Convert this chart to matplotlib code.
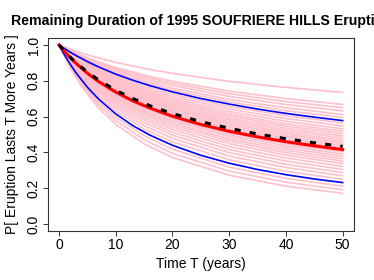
import matplotlib
matplotlib.use('Agg')
import matplotlib.pyplot as plt
import numpy as np

# time grid (years) for the main curves
t_main = [0, 1, 2, 3, 5, 7, 10, 13, 16, 20, 25, 30, 35, 40, 45, 50]

# central estimate (red) and the other estimate (black dashed)
p_red = [1.0, 0.962, 0.928, 0.897, 0.842, 0.795, 0.737, 0.688, 0.648,
         0.602, 0.556, 0.518, 0.487, 0.460, 0.437, 0.416]
p_dash = [1.0, 0.964, 0.931, 0.901, 0.849, 0.804, 0.747, 0.701, 0.661,
          0.617, 0.572, 0.535, 0.503, 0.477, 0.454, 0.434]

# upper and lower bounds (blue)
p_upper = [1.0, 0.979, 0.959, 0.941, 0.907, 0.877, 0.837, 0.803, 0.773,
           0.738, 0.701, 0.670, 0.642, 0.618, 0.597, 0.578]
p_lower = [1.0, 0.942, 0.891, 0.844, 0.764, 0.697, 0.615, 0.550, 0.497,
           0.440, 0.384, 0.340, 0.305, 0.276, 0.252, 0.232]

# time grid for the sampled curves (pink), one row per curve
t_samples = [0, 2, 4, 7, 10, 15, 20, 30, 40, 50]
p_samples = [
    [1.0, 0.976, 0.955, 0.927, 0.903, 0.869, 0.841, 0.797, 0.763, 0.735],
    [1.0, 0.969, 0.941, 0.905, 0.874, 0.832, 0.797, 0.742, 0.701, 0.668],
    [1.0, 0.966, 0.937, 0.899, 0.867, 0.822, 0.785, 0.728, 0.684, 0.650],
    [1.0, 0.964, 0.933, 0.893, 0.859, 0.811, 0.773, 0.713, 0.668, 0.632],
    [1.0, 0.962, 0.929, 0.886, 0.849, 0.799, 0.759, 0.696, 0.649, 0.612],
    [1.0, 0.960, 0.925, 0.880, 0.841, 0.789, 0.747, 0.682, 0.633, 0.595],
    [1.0, 0.956, 0.917, 0.868, 0.827, 0.771, 0.725, 0.656, 0.605, 0.565],
    [1.0, 0.953, 0.913, 0.862, 0.819, 0.760, 0.713, 0.642, 0.589, 0.548],
    [1.0, 0.951, 0.909, 0.856, 0.811, 0.750, 0.701, 0.628, 0.574, 0.532],
    [1.0, 0.949, 0.905, 0.850, 0.804, 0.741, 0.691, 0.615, 0.560, 0.518],
    [1.0, 0.947, 0.902, 0.845, 0.797, 0.732, 0.681, 0.604, 0.548, 0.505],
    [1.0, 0.945, 0.898, 0.839, 0.790, 0.724, 0.671, 0.592, 0.536, 0.492],
    [1.0, 0.943, 0.895, 0.834, 0.783, 0.715, 0.662, 0.582, 0.524, 0.480],
    [1.0, 0.942, 0.892, 0.829, 0.777, 0.707, 0.653, 0.571, 0.512, 0.468],
    [1.0, 0.940, 0.889, 0.824, 0.771, 0.700, 0.644, 0.561, 0.502, 0.457],
    [1.0, 0.938, 0.885, 0.819, 0.765, 0.692, 0.635, 0.551, 0.491, 0.446],
    [1.0, 0.936, 0.882, 0.814, 0.758, 0.684, 0.626, 0.541, 0.481, 0.435],
    [1.0, 0.934, 0.878, 0.809, 0.752, 0.676, 0.617, 0.531, 0.470, 0.424],
    [1.0, 0.932, 0.875, 0.804, 0.745, 0.668, 0.608, 0.521, 0.459, 0.413],
    [1.0, 0.930, 0.871, 0.798, 0.739, 0.660, 0.599, 0.510, 0.448, 0.402],
    [1.0, 0.928, 0.867, 0.792, 0.731, 0.651, 0.589, 0.499, 0.437, 0.390],
    [1.0, 0.926, 0.863, 0.786, 0.724, 0.642, 0.579, 0.488, 0.425, 0.378],
    [1.0, 0.923, 0.859, 0.779, 0.715, 0.631, 0.567, 0.475, 0.412, 0.365],
    [1.0, 0.921, 0.854, 0.773, 0.707, 0.621, 0.556, 0.463, 0.399, 0.352],
    [1.0, 0.918, 0.849, 0.765, 0.697, 0.610, 0.543, 0.449, 0.385, 0.338],
    [1.0, 0.914, 0.843, 0.756, 0.686, 0.596, 0.529, 0.433, 0.369, 0.322],
    [1.0, 0.910, 0.836, 0.746, 0.674, 0.582, 0.513, 0.416, 0.352, 0.305],
    [1.0, 0.906, 0.829, 0.735, 0.661, 0.567, 0.497, 0.399, 0.334, 0.288],
    [1.0, 0.901, 0.821, 0.723, 0.647, 0.550, 0.479, 0.380, 0.316, 0.270],
    [1.0, 0.896, 0.811, 0.710, 0.631, 0.531, 0.459, 0.359, 0.295, 0.250],
    [1.0, 0.884, 0.791, 0.681, 0.597, 0.493, 0.418, 0.318, 0.255, 0.212],
    [1.0, 0.877, 0.779, 0.665, 0.578, 0.471, 0.395, 0.296, 0.234, 0.192],
    [1.0, 0.870, 0.767, 0.647, 0.557, 0.448, 0.372, 0.273, 0.212, 0.172],
]

x_ticks = [0, 10, 20, 30, 40, 50]
y_ticks = [0.0, 0.2, 0.4, 0.6, 0.8, 1.0]

title = 'Remaining Duration of 1995 SOUFRIERE HILLS Eruption'
x_label = 'Time T (years)'
y_label = 'P[ Eruption Lasts T More Years ]'

plt.rcParams['font.family'] = ['Liberation Sans', 'DejaVu Sans']

W, H = 374, 280
fig = plt.figure(figsize=(W / 100, H / 100), dpi=100)
ax = fig.add_axes([47.7 / W, 1 - 231.3 / H, (354 - 47.7) / W, (231.3 - 37.8) / H])

for row in p_samples:
    ax.plot(t_samples, row, color='pink', lw=1.2, solid_joinstyle='round')
ax.plot(t_main, p_upper, color='blue', lw=1.2)
ax.plot(t_main, p_lower, color='blue', lw=1.2)
ax.plot(t_main, p_red, color='red', lw=2.2)
ax.plot(t_main, p_dash, color='black', lw=2.2, linestyle=(0, (2, 3)))

ax.set_xlim(-2, 52)
ax.set_ylim(-0.04, 1.04)
ax.set_xticks(x_ticks)
ax.set_xticklabels([str(v) for v in x_ticks])
ax.set_yticks(y_ticks)
ax.set_yticklabels(['%.1f' % v for v in y_ticks], rotation=90, va='center')

ax.tick_params(direction='out', length=3.6, width=0.7, labelsize=10, color='#333333')
ax.tick_params(axis='x', pad=1.5)
ax.tick_params(axis='y', pad=1.5)
for s in ax.spines.values():
    s.set_linewidth(0.8)
    s.set_color('#333333')

fig.text(201 / W, 1 - 25 / H, title, ha='center', va='baseline', fontsize=10.2, fontweight='bold')
fig.text(201 / W, 1 - 268 / H, x_label, ha='center', va='baseline', fontsize=10)
fig.text(12 / W, 1 - 134.5 / H, y_label, ha='center', va='center', rotation=90, fontsize=10)

fig.savefig('out.png', dpi=100)
